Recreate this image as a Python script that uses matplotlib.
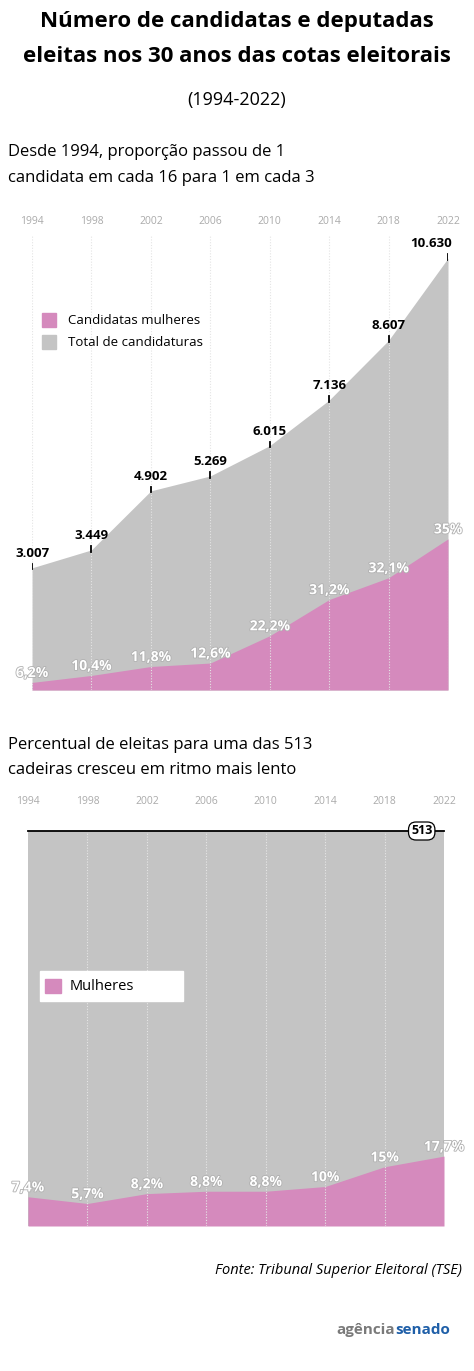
import matplotlib
matplotlib.use("Agg")
import matplotlib.pyplot as plt
import matplotlib.patheffects as pe
from matplotlib.patches import Rectangle

years = [1994, 1998, 2002, 2006, 2010, 2014, 2018, 2022]
total_cand = [3007, 3449, 4902, 5269, 6015, 7136, 8607, 10630]
pct_cand = [6.2, 10.4, 11.8, 12.6, 22.2, 31.2, 32.1, 35.0]
pct_cand_lbl = ["6,2%", "10,4%", "11,8%", "12,6%", "22,2%", "31,2%", "32,1%", "35%"]
total_lbl = ["3.007", "3.449", "4.902", "5.269", "6.015", "7.136", "8.607", "10.630"]
seats = 513
pct_eleitas = [7.4, 5.7, 8.2, 8.8, 8.8, 10.0, 15.0, 17.7]
pct_eleitas_lbl = ["7,4%", "5,7%", "8,2%", "8,8%", "8,8%", "10%", "15%", "17,7%"]

GRAY = "#c4c4c4"
PINK = "#d58abd"
plt.rcParams['font.family'] = ['Open Sans', 'DejaVu Sans']

fig = plt.figure(figsize=(4.74, 13.71), dpi=100)
W, H = 474, 1371
def fy(y): return 1 - y / H

fig.text(0.5, fy(22), "Número de candidatas e deputadas", ha='center', va='center',
         fontsize=16, fontweight='bold')
fig.text(0.5, fy(57), "eleitas nos 30 anos das cotas eleitorais", ha='center', va='center',
         fontsize=16, fontweight='bold')
fig.text(0.5, fy(100), "(1994-2022)", ha='center', va='center', fontsize=13)
fig.text(8 / W, fy(152), "Desde 1994, proporção passou de 1", ha='left', va='center', fontsize=12)
fig.text(8 / W, fy(178), "candidata em cada 16 para 1 em cada 3", ha='left', va='center', fontsize=12)
fig.text(8 / W, fy(745), "Percentual de eleitas para uma das 513", ha='left', va='center', fontsize=12)
fig.text(8 / W, fy(770), "cadeiras cresceu em ritmo mais lento", ha='left', va='center', fontsize=12)

stroke = [pe.withStroke(linewidth=1.2, foreground='#b0b0b0')]

# Chart 1
ax1 = fig.add_axes([32 / W, fy(690), 416 / W, 455 / H])
ax1.set_xlim(years[0], years[-1])
ax1.set_ylim(0, 11200)
ax1.axis('off')
women = [t * p / 100 for t, p in zip(total_cand, pct_cand)]
ax1.fill_between(years, 0, total_cand, color=GRAY, lw=0, zorder=1)
ax1.fill_between(years, 0, women, color=PINK, lw=0, zorder=2)
for y in years:
    ax1.axvline(y, color='#e4e4e4', lw=0.8, ls=(0, (1, 1.5)), zorder=3)
for y, t, l in zip(years, total_cand, total_lbl):
    ax1.plot([y, y], [t - 40, t + 100], color='black', lw=1.3, zorder=4)
    ha = 'right' if y == years[-1] else 'center'
    ax1.text(y + (0.3 if ha == 'right' else 0), t + 200, l, ha=ha, va='bottom',
             fontsize=9.5, fontweight='bold', zorder=5, clip_on=False)
for y, w, l in zip(years, women, pct_cand_lbl):
    ax1.text(y, w + 60, l, ha='center', va='bottom', fontsize=10, fontweight='bold',
             color='white', path_effects=stroke, zorder=5, clip_on=False)
for i, y in enumerate(years):
    fig.text((32 + 416 * i / 7) / W, fy(222), str(y), ha='center', va='center',
             fontsize=7.5, color='#aaaaaa')

fig.patches.append(Rectangle((42 / W, fy(327)), 14 / W, 14 / H, color=PINK, transform=fig.transFigure))
fig.patches.append(Rectangle((42 / W, fy(349)), 14 / W, 14 / H, color=GRAY, transform=fig.transFigure))
fig.text(68 / W, fy(320), "Candidatas mulheres", ha='left', va='center', fontsize=9.5)
fig.text(68 / W, fy(342), "Total de candidaturas", ha='left', va='center', fontsize=9.5)

# Chart 2
ax2 = fig.add_axes([28 / W, fy(1226), 416 / W, 395 / H])
ax2.set_xlim(years[0], years[-1])
ax2.set_ylim(0, seats)
ax2.axis('off')
elected = [seats * p / 100 for p in pct_eleitas]
ax2.fill_between(years, 0, [seats] * len(years), color=GRAY, lw=0, zorder=1)
ax2.fill_between(years, 0, elected, color=PINK, lw=0, zorder=2)
for y in years[1:-1]:
    ax2.axvline(y, color='#e6e6e6', lw=0.8, ls=(0, (1, 1.5)), zorder=3)
ax2.axhline(seats, color='black', lw=1.3, zorder=4, clip_on=False)
ax2.text(2020.5, seats, "513", ha='center', va='center', fontsize=9, fontweight='bold', zorder=6,
         bbox=dict(boxstyle='round,pad=0.2,rounding_size=0.6', fc='white', ec='black', lw=0.9))
for y, e, l in zip(years, elected, pct_eleitas_lbl):
    ax2.text(y, e + 3, l, ha='center', va='bottom', fontsize=10, fontweight='bold',
             color='white', path_effects=stroke, zorder=5, clip_on=False)
for i, y in enumerate(years):
    fig.text((28 + 416 * i / 7) / W, fy(802), str(y), ha='center', va='center',
             fontsize=7.5, color='#aaaaaa')
fig.patches.append(Rectangle((40 / W, fy(1001)), 143 / W, 30 / H, color='white', transform=fig.transFigure))
fig.patches.append(Rectangle((45 / W, fy(993)), 16 / W, 14 / H, color=PINK, transform=fig.transFigure))
fig.text(70 / W, fy(986), "Mulheres", ha='left', va='center', fontsize=10.5)

fig.text(462 / W, fy(1270), "Fonte: Tribunal Superior Eleitoral (TSE)", ha='right', va='center',
         fontsize=10.5, style='italic')
fig.text(395 / W, fy(1330), "agência", ha='right', va='center', fontsize=11, color='#7a7a7a', fontweight='bold')
fig.text(395 / W, fy(1330), "senado", ha='left', va='center', fontsize=11, color='#1f5fa8', fontweight='bold')

fig.savefig("out.png", dpi=100)
